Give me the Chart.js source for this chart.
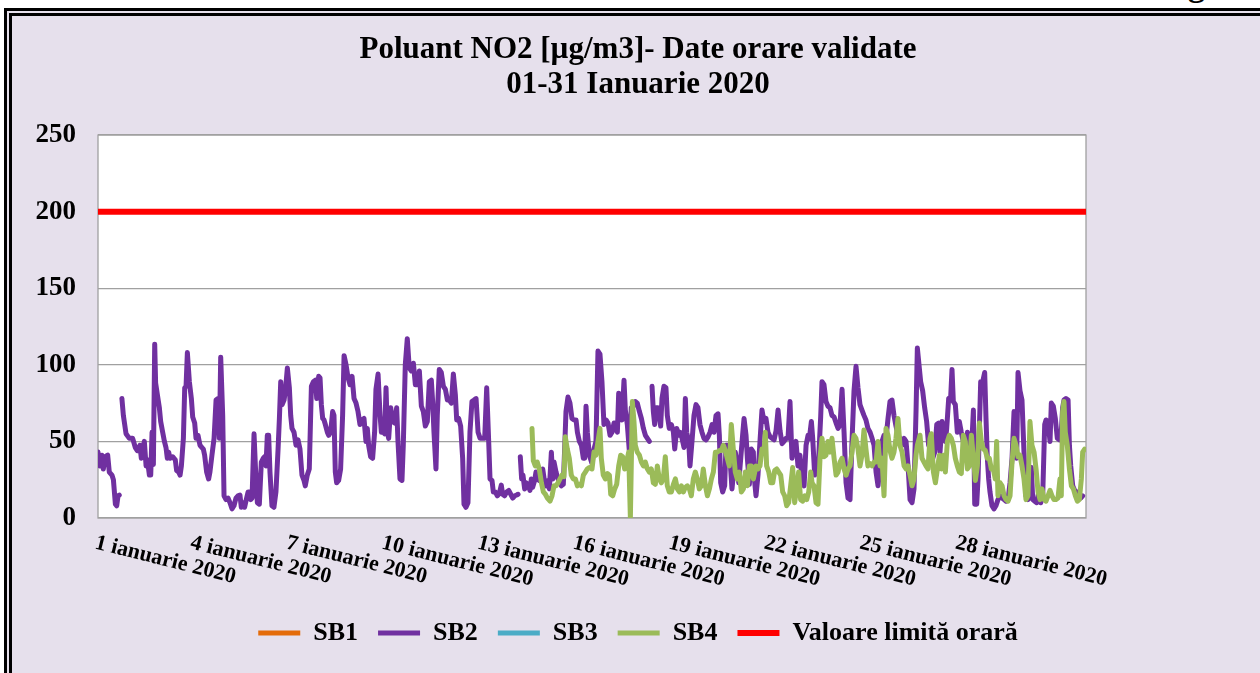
<!DOCTYPE html>
<html>
<head>
<meta charset="utf-8">
<script src="https://cdn.jsdelivr.net/npm/chart.js@4.4.1/dist/chart.umd.min.js"></script>
<style>
  html, body { margin: 0; padding: 0; background: #fff; overflow: hidden; width: 1260px; height: 673px; }
  .cut { position: absolute; left: 1188px; top: -32px; font: bold 34px 'Liberation Serif', 'Times New Roman', serif; line-height: 34px; }
  .frame { position: absolute; left: 4px; top: 8px; width: 1300px; height: 700px; border: 8px double #000; background: #e6e0ec; }
  .frame canvas { position: absolute; left: 0; top: 0; }
</style>
</head>
<body>
<div class="cut">g</div>
<div class="frame"><canvas id="no2Chart" width="1252" height="657"></canvas></div>
<script>
const titleLines = ['Poluant NO2 [µg/m3]- Date orare validate', '01-31 Ianuarie 2020'];
const seriesNames = ['SB1', 'SB2', 'SB3', 'SB4', 'Valoare limită orară'];
const seriesColors = ['#e46c0a', '#7030a0', '#4bacc6', '#9bbb59', '#ff0000'];
const tickDays = [1, 4, 7, 10, 13, 16, 19, 22, 25, 28];
const monthName = 'ianuarie';
const yTicks = [0, 50, 100, 150, 200, 250];

// [hour since 1 Jan 00:00, µg/m3]; null = missing hours
const sb1 = [];
const sb3 = [];

const sb2 = [
  [0,43],[1.5,34],[3,41],[4,32],[5.5,40],[7.3,41],[8.5,30],[10.5,28],[11.6,25],[13.1,9],[14.1,8],[15.1,14.5],[16,15],[17,null],
  [18,78],[19.1,67],[21.1,55],[23.6,52],[26.1,52],[28.1,46],[29.6,44],[31.6,47.5],[32.6,39],[33.6,45],[34.9,50],[36.2,34],[37.2,38],
  [38.7,28],[39.7,28],[40.7,56],[41.7,35],[42.7,113.5],[43.4,88],[44.7,80.5],[46.2,72],[47.2,63],[48.7,56],[50,50],[51.2,46],[52.2,39],
  [53.2,43],[54.2,39],[56.2,40],[58.2,38],[59.2,31],[60.7,30],[61.8,28],[62.8,34],[64.3,52],[65.3,85],[66.3,86],[67.3,108],[68.8,89],
  [70.3,78],[71.3,66],[72.8,62],[73.8,52],[75.3,54],[76.8,47.5],[78.3,46],[79.3,45],[80.3,41],[81.8,30],[83.3,25.5],[84.3,30],[85.8,41],
  [87.4,52],[88.9,77],[90.4,78],[91.4,52],[92.4,105],[93.9,67],[94.9,14.5],[96.4,12],[97.9,13],[99.4,10],[100.9,6],[102.4,8],[103.9,13],
  [105.4,14.5],[106.9,15],[107.9,7],[109.4,10],[110.4,7],[111.4,11],[113,17],[114,17],[115,12],[116,13],[117.5,55],[118.5,34],[120,10],
  [121.5,9],[123,36.5],[124.5,39],[125.5,40],[126.5,34],[127.5,54],[128.5,54],[129.5,30],[131,8],[132.5,7],[134,17],[135.6,45],[136.6,65],
  [137.6,89],[138.6,74],[140.1,77],[141.1,83],[142.6,98],[144.1,85],[145.1,67],[146.1,58.5],[147.6,56],[149.1,47.5],[150.6,51],[152.1,45],
  [153.6,28],[155.1,24.5],[156.1,21],[157.6,28],[159.1,32],[160.7,86],[162.2,89],[163.7,90],[164.7,78],[166.2,92.5],[167.2,91.5],[168.2,74],
  [169.2,65],[170.2,64],[171.2,61],[172.7,56],[173.7,54],[175.2,56],[176.7,69.5],[177.7,67],[178.7,30],[179.7,23],[181.2,24.5],[182.7,32],
  [184.2,67],[185.3,106],[186.8,100],[188.3,91.5],[189.8,87],[191.3,92.5],[192.8,78],[194.3,75],[195.8,69.5],[197.3,61],[198.8,64],[200.3,65],
  [201.8,50],[202.8,58.5],[203.8,47.5],[205.3,40],[206.8,39],[208.3,56],[209.3,84],[210.9,94],[212.4,67],[213.4,56],[214.9,56],[215.9,55],
  [216.9,85],[217.9,56],[218.9,52],[220.4,72],[221.9,63],[223.4,62],[224.9,72],[225.9,50],[227.4,25.5],[228.9,24.5],[229.9,47.5],[231.4,100],
  [232.9,117],[234.4,98],[236,96],[237.5,101],[239,87],[240.5,87],[242,96],[243.5,73],[245,69.5],[246.5,60],[248,63],[249.5,89],[251,90],
  [252,76],[253,56],[254.5,32],[255.5,67],[257,97],[258.5,95],[260.1,86],[261.6,84],[263.1,77],[264.6,77],[266.1,75],[267.6,94],[269.1,80.5],
  [270.1,64],[271.6,65],[273.1,60],[274.6,39],[275.6,9],[277.1,7],[278.6,10],[280.1,56],[281.6,76],[283.2,77],[284.7,78],[286.2,56],[287.7,52],
  [289.7,52],[291.2,52],[292.7,85],[294.2,50],[295.2,25.5],[296.7,24.5],[297.7,17],[299.2,17],[300.7,14.5],[302.2,16],[303.7,21.5],[304.7,15.5],
  [306.2,14.5],[307.7,17],[309.3,18],[310.8,15.5],[312.3,13],[313.8,14.5],[315.3,15],[316.3,15.5],[317.2,null],
  [318,40],[319,25.5],[320,28],[321.3,19],[322.3,23],[323.8,22],[325.3,18],[326.3,25.5],[327.3,20],[328.8,24.5],[329.8,30],[330.8,25.5],
  [332.3,24.5],[333.9,30],[334.9,32],[336.4,23],[337.4,21],[338.9,24.5],[339.9,19],[341.4,43],[342.4,25.5],[343.4,36.5],[344.9,30],[346.4,25.5],
  [347.9,23],[348.9,21],[350.4,22],[351.4,45],[352.4,69.5],[353.9,79],[355.4,75],[356.9,65],[358.5,64],[360,64],[361,56],[362.5,50],[364,47.5],
  [365.5,39],[366.5,39],[367.5,73],[368.5,56],[370,41],[372,35.5],[373.5,45],[375,50],[376.5,109],[378,107],[379.5,89],[381,61],[382.6,64],
  [384.1,62],[385.6,54],[387.1,56],[388.6,62],[390.1,58.5],[391.1,56],[392.1,81.5],[393.6,67],[394.6,64],[396.1,90],[397.1,70.5],[398.6,61],
  [400.1,44],[401.6,72],[403.1,73],[404.6,76],[406.1,75],[407.7,69.5],[409.2,65],[410.7,58.5],[412.2,54],[413.7,52],[415.2,50],[416.2,null],
  [417.2,86],[418.2,69.5],[419.2,61],[420.2,72],[421.7,72],[422.7,67],[423.7,60],[424.7,78],[426.2,86],[427.7,85],[428.7,67],[430.2,58.5],
  [431.8,61],[433.3,56],[434.3,45],[435.8,58.5],[437.3,54],[438.3,56],[439.8,52],[441.3,46],[442.3,78],[443.3,56],[444.8,50],[445.8,34],
  [447.3,50],[448.8,67],[450.3,74],[451.8,72],[453.3,61],[454.8,56],[456.3,52],[457.9,51],[459.4,53],[460.9,56],[462.4,61],[463.9,56],
  [465.4,67],[466.9,68],[467.9,54],[468.9,23],[470.4,17],[471.9,21],[472.9,47.5],[474.4,47.5],[475.9,39],[477.4,19],[478.9,32],[479.9,43],
  [481.4,35.5],[482.5,23],[484,39],[485.5,55],[486.5,65],[488,54],[489,39],[490.5,22],[492,45],[493.5,43],[494,28],[495.5,14.5],[497,28],
  [498.5,50],[500,70.5],[501.5,63],[503,65],[504.5,56],[506.1,53],[507.6,52],[509.1,51],[510.6,57],[512.1,70.5],[513.6,57],[515.1,48.5],
  [516.6,50],[518.1,52],[519.6,52],[521.1,76],[522.6,39],[524.1,47.5],[525.6,50],[527.1,34],[528.6,41],[530.2,25.5],[531.7,21],[533.2,47.5],
  [534.7,54],[535.7,52],[537.2,63],[538.2,52],[539.7,28],[541.2,34],[542.7,39],[544.2,66],[545.2,89],[546.7,87],[548.2,76],[549.7,73],
  [551.2,72],[552.7,67],[554.3,66],[555.8,62],[557.3,58.5],[558.8,61],[560.3,84],[561.8,56],[563.3,23],[564.8,13],[566.3,12],[567.8,50],
  [569.3,83],[570.8,99],[572.3,85],[573.8,74],[575.3,70.5],[576.8,67],[578.3,64],[579.8,58.5],[581.4,56],[582.9,52],[584.4,47.5],[585.9,30],
  [587.4,21],[588.9,34],[590.4,50],[591.9,54],[593.4,52],[594.9,65],[596.4,76],[597.9,77],[599.4,67],[600.9,60],[602.4,54],[603.9,52],
  [605.5,47.5],[607,52],[608.5,50],[610,34],[611.5,12],[613,10],[614.5,19],[616,69.5],[617,111],[619.5,89],[621,83],[622.5,72],[624,63],
  [625.5,47.5],[627,54],[628.6,39],[630.1,43],[631.6,61],[633.1,62],[634.1,43],[635.6,63],[637.1,54],[638.1,50],[639.1,58.5],[640.6,78],
  [642.1,79],[643.1,97],[644.1,76],[645.6,74],[647.1,56],[648.6,63],[650.1,56],[651.6,50],[653.1,45],[654.7,56],[656.2,50],[657.7,43],
  [659.2,70.5],[660.2,9],[661.7,9],[662.7,25.5],[663.7,58.5],[664.7,89],[666.2,89],[667.7,95],[668.7,65],[669.7,39],[670.7,25.5],[671.7,17],
  [673.2,8],[674.7,6],[676.2,8],[677.7,12],[679.3,14.5],[680.8,13],[682.3,12],[683.8,11],[685.3,12],[686.8,23],[688.3,39],[689.8,69.5],
  [690.8,52],[691.8,39],[692.8,95],[694.3,83],[695.8,77],[697.3,43],[698.8,14.5],[700.3,12],[701.8,30],[702.8,33],[703.9,12],[705.4,11],
  [706.9,10],[708.4,17],[709.9,10],[711.4,14.5],[712.9,61],[713.9,64],[715.4,63],[716.9,50],[717.9,75],[719.4,73],[720.9,65],[722.4,52],
  [723.9,51],[725.4,56],[726.4,72],[727.4,77],[728.9,78],[730.5,77],[731.5,47.5],[732.5,34],[734,21],[735.5,18],[737,17],[738.5,14.5],
  [740,13],[741.5,14.5]
];

const sb4 = [
  [326.8,58.5],[327.8,37.5],[329.3,34],[330.8,36.5],[332.3,32],[333.9,23],[335.4,17],[336.9,15.5],[338.4,13],[340.4,11],[341.9,14.5],
  [343.4,21],[344.9,21],[346.4,23],[347.9,25.5],[349.4,28],[350.9,27],[351.9,53],[353.4,45],[354.9,39],[356.4,28],[357.9,25.5],[359.5,25.5],
  [361,21],[362.5,22],[364,21],[365.5,28],[367,30],[368.5,32],[370,33],[372,32],[373.5,43],[375,41],[376.5,50],[378,58.5],[379,39],
  [380.5,28],[382.1,25.5],[383.6,29],[385.1,28],[386.1,15.5],[387.6,14.5],[389.1,19],[390.6,22],[392.1,34],[393.6,41],[395.1,40],[396.6,32],
  [398.1,36.5],[399.6,43],[400.9,0],[402.4,76],[403.6,63],[404.6,47.5],[406.1,43],[407.7,41],[409.2,36.5],[410.7,34],[412.2,36.5],[413.7,32],
  [415.2,30],[416.7,32],[418.2,23],[419.7,22],[421.2,34],[422.7,25.5],[424.2,23],[425.7,25.5],[427.2,40],[428.7,21],[430.2,17],[431.8,17],
  [433.3,22],[434.8,25.5],[436.3,19],[437.8,17],[439.3,21],[440.8,17],[442.3,20],[443.8,21],[445.3,19],[446.8,14.5],[448.3,25.5],[449.8,30],
  [451.3,25.5],[452.8,19],[454.3,21],[455.8,32],[457.4,21],[458.9,14.5],[460.4,19],[461.9,25.5],[463.4,30],[464.9,43],[466.4,43],[467.9,44],
  [469.4,44],[470.9,47.5],[472.4,44],[473.9,39],[475.4,34],[476.9,61],[478.4,45],[479.9,30],[481.4,25.5],[482.9,30],[484.5,17],[486,19],
  [487.5,30],[489,21],[490.5,34],[492,34],[493.5,25.5],[495.5,34],[497,32],[498.5,34],[500,45],[501.5,43],[502.5,56],[503.5,34],[505.1,30],
  [506.6,23],[508.1,23],[509.6,31],[511.1,32],[512.6,30],[514.1,28],[515.6,17],[517.1,14.5],[518.6,8],[520.1,10],[521.6,21],[523.1,33],
  [524.6,10],[526.1,19],[527.6,30],[529.1,12],[530.7,11],[532.2,14.5],[533.7,12],[535.2,17],[536.7,30],[537.7,23],[539.2,21],[540.7,10],
  [542.2,9],[543.7,39],[545.2,52],[546.7,40],[548.2,41],[549.7,50],[551.2,43],[552.7,52],[554.3,39],[555.8,28],[557.3,30],[558.8,36.5],
  [560.3,39],[561.8,32],[563.3,28],[564.8,32],[566.3,34],[567.8,43],[569.3,54],[570.8,52],[572.3,45],[573.8,34],[575.3,41],[576.8,57.5],
  [578.3,45],[579.8,34],[581.4,35.5],[582.9,34],[584.4,36.5],[585.9,36.5],[587.4,50],[588.9,34],[590.4,39],[591.9,14.5],[593.4,58.5],[594.9,54],
  [596.4,44],[597.9,39],[599.4,43],[600.9,52],[602.4,65],[603.9,47.5],[605.5,43],[607,34],[608.5,32],[610,34],[611.5,28],[613,21],[614.5,25.5],
  [616,41],[617,47.5],[619,54],[620.5,39],[622,36.5],[623.5,34],[625,32],[626.5,52],[627.5,55],[629.1,30],[630.6,23],[632.1,32],[633.6,41],
  [635.1,32],[636.6,41],[638.1,30],[639.6,50],[641.1,54],[642.6,52],[644.1,47.5],[645.6,39],[647.1,34],[648.6,30],[650.1,29],[651.6,54],
  [653.1,50],[654.7,32],[656.2,34],[657.7,54],[659.2,39],[660.7,24.5],[662.2,34],[663.7,62],[665.2,50],[666.7,45],[668.2,44],[669.7,39],
  [671.2,39],[672.7,32],[674.2,32],[675.7,25.5],[676.7,50],[677.7,14.5],[679.3,23],[680.8,21],[682.3,14.5],[683.8,12],[685.3,11],[686.8,14.5],
  [688.3,36.5],[689.8,52],[691.3,47.5],[692.8,40],[694.3,41],[695.8,34],[697.3,25.5],[698.8,12],[700.3,14.5],[701.8,63],[703.3,47.5],[704.9,43],
  [706.4,32],[707.9,17],[709.4,12],[710.9,19],[712.4,12],[713.9,11],[715.4,14.5],[716.9,18],[718.4,14.5],[719.9,12],[721.4,12],[722.9,13],
  [724.4,25.5],[725.4,14.5],[726.4,69.5],[727.4,76],[728.4,56],[729.9,47.5],[731.5,32],[733,21],[734.5,19],[736,14.5],[737.5,11],[739,12],
  [740.5,25.5],[741.5,43],[743,45]
];

const limitHours = [0, 744];
const limitValues = [200, 200];

const serif = "'Times New Roman', 'Liberation Serif', serif";

function toPoints(pairs) {
  return pairs.map(([x, y]) => ({ x, y }));
}

const plotFrame = {
  id: 'plotFrame',
  beforeDraw(chart) {
    const { ctx, chartArea: a } = chart;
    ctx.save();
    ctx.fillStyle = '#ffffff';
    ctx.fillRect(a.left, a.top, a.width, a.height);
    ctx.restore();
  },
  beforeDatasetsDraw(chart) {
    const { ctx, chartArea: a } = chart;
    ctx.save();
    ctx.strokeStyle = '#a0a0a0';
    ctx.lineWidth = 1.3;
    ctx.strokeRect(a.left, a.top, a.width, a.height);
    ctx.restore();
  },
};

// category labels sit below the axis, slanted down to the right
const dateLabels = {
  id: 'dateLabels',
  afterDraw(chart) {
    const { ctx, chartArea, scales } = chart;
    ctx.save();
    ctx.font = `bold 22px ${serif}`;
    ctx.fillStyle = '#000';
    ctx.textAlign = 'left';
    ctx.textBaseline = 'top';
    tickDays.forEach((day) => {
      const x = scales.x.getPixelForValue((day - 1) * 24);
      ctx.save();
      ctx.translate(x, chartArea.bottom + 14);
      ctx.rotate((14 * Math.PI) / 180);
      ctx.fillText(`${day} ${monthName} 2020`, 0, 0);
      ctx.restore();
    });
    ctx.restore();
  },
};

const seriesData = [
  toPoints(sb1),
  toPoints(sb2),
  toPoints(sb3),
  toPoints(sb4),
  limitHours.map((h, i) => ({ x: h, y: limitValues[i] })),
];
const drawOrder = [4, 3, 2, 1, 0];
const lineWidths = [5, 5, 5, 5, 6];

new Chart(document.getElementById('no2Chart'), {
  type: 'line',
  data: {
    datasets: seriesNames.map((name, i) => ({
      label: name,
      data: seriesData[i],
      borderColor: seriesColors[i],
      backgroundColor: seriesColors[i],
      borderWidth: lineWidths[i],
      borderCapStyle: 'round',
      borderJoinStyle: 'round',
      pointRadius: 0,
      tension: 0,
      fill: false,
      order: drawOrder[i],
    })),
  },
  options: {
    responsive: false,
    animation: false,
    layout: { padding: { left: 0, right: 0, top: 0, bottom: 17 } },
    scales: {
      x: {
        type: 'linear',
        min: 0,
        max: 744,
        grid: { display: false },
        border: { display: false },
        ticks: { display: false },
        afterFit: (scale) => { scale.height = 82; },
      },
      y: {
        min: 0,
        max: 250,
        afterBuildTicks: (scale) => { scale.ticks = yTicks.map((v) => ({ value: v })); },
        grid: { color: '#a0a0a0', lineWidth: 1.3, drawTicks: false },
        border: { display: false },
        ticks: {
          padding: 22,
          color: '#000',
          font: { family: serif, size: 27, weight: 'bold' },
        },
        afterFit: (scale) => { scale.width = 86; },
      },
      spacer: {
        type: 'linear',
        position: 'right',
        display: true,
        grid: { display: false },
        border: { display: false },
        ticks: { display: false },
        afterFit: (scale) => { scale.width = 178; },
      },
    },
    plugins: {
      title: {
        display: true,
        text: titleLines,
        color: '#000',
        font: { family: serif, size: 31, weight: 'bold', lineHeight: 1.13 },
        padding: { top: 16, bottom: 33 },
      },
      legend: {
        position: 'bottom',
        labels: {
          usePointStyle: true,
          pointStyle: 'line',
          pointStyleWidth: 42,
          padding: 20,
          color: '#000',
          font: { family: serif, size: 26, weight: 'bold' },
          sort: (a, b) => a.datasetIndex - b.datasetIndex,
        },
      },
      tooltip: { enabled: false },
    },
  },
  plugins: [plotFrame, dateLabels],
});
</script>
</body>
</html>
